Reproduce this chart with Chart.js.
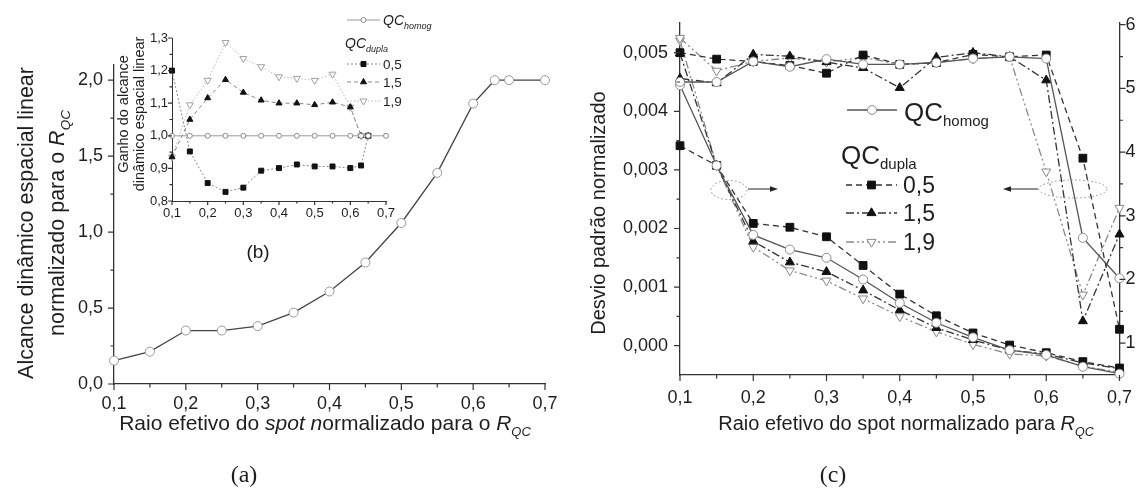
<!doctype html>
<html lang="pt">
<head>
<meta charset="utf-8">
<title>Alcance dinâmico e desvio padrão</title>
<script src="https://cdn.jsdelivr.net/npm/chart.js"></script>
<style>
  body { margin: 0; background: #fff; }
  #fig { position: relative; width: 1144px; height: 491px; overflow: hidden; }
  #fig canvas { position: absolute; top: 0; }
</style>
</head>
<body>
<div id="fig">
  <canvas id="chartA" width="572" height="491" style="left:0"></canvas>
  <canvas id="chartB" width="350" height="270" style="left:100px"></canvas>
  <canvas id="chartC" width="572" height="491" style="left:572px"></canvas>
</div>
<script>
// (a) alcance dinamico normalizado
const raioA = [0.1, 0.15, 0.2, 0.25, 0.3, 0.35, 0.4, 0.45, 0.5, 0.55, 0.6, 0.63, 0.65, 0.7];
const alcanceHomog = [0.154, 0.213, 0.352, 0.352, 0.381, 0.47, 0.609, 0.80, 1.06, 1.39, 1.846, 2.0, 2.0, 2.0];

// (b) ganho (inset)
const raioB = [0.1, 0.15, 0.2, 0.25, 0.3, 0.35, 0.4, 0.45, 0.5, 0.55, 0.6, 0.63, 0.65];
const raioBHomog = [0.1, 0.15, 0.2, 0.25, 0.3, 0.35, 0.4, 0.45, 0.5, 0.55, 0.6, 0.63, 0.65, 0.7];
const ganhoHomog = [1, 1, 1, 1, 1, 1, 1, 1, 1, 1, 1, 1, 1, 1];
const ganhoDupla05 = [1.20, 0.952, 0.855, 0.828, 0.841, 0.893, 0.901, 0.912, 0.906, 0.906, 0.901, 0.909, 1.0];
const ganhoDupla15 = [0.935, 1.05, 1.116, 1.172, 1.133, 1.109, 1.10, 1.10, 1.095, 1.103, 1.088, 1.0, 1.0];
const ganhoDupla19 = [0.935, 1.095, 1.17, 1.286, 1.237, 1.212, 1.181, 1.176, 1.17, 1.189, 1.088, 1.0, 1.0];

// (c) desvio padrao (eixo esquerdo) e eixo direito
const raioC = [0.1, 0.15, 0.2, 0.25, 0.3, 0.35, 0.4, 0.45, 0.5, 0.55, 0.6, 0.65, 0.7];
const desvioHomog = [0.00450, 0.00450, 0.00485, 0.00476, 0.00489, 0.00480, 0.00480, 0.00483, 0.00490, 0.00493, 0.00490, 0.00184, 0.00115];
const desvioDupla05 = [0.00500, 0.00489, 0.00485, 0.00478, 0.00465, 0.00496, 0.00480, 0.00483, 0.00497, 0.00493, 0.00496, 0.00320, 0.00028];
const desvioDupla15 = [0.00456, 0.00448, 0.00497, 0.00494, 0.00484, 0.00474, 0.00440, 0.00492, 0.00500, 0.00493, 0.00453, 0.00042, 0.00190];
const desvioDupla19 = [0.00525, 0.00469, 0.00485, 0.00491, 0.00484, 0.00492, 0.00480, 0.00483, 0.00490, 0.00493, 0.00297, 0.00087, 0.00235];
const direitoHomog = [5.05, 3.79, 2.70, 2.47, 2.34, 2.00, 1.63, 1.32, 1.09, 0.89, 0.815, 0.63, 0.52];
const direitoDupla05 = [4.10, 3.79, 2.88, 2.82, 2.67, 2.22, 1.77, 1.43, 1.16, 0.97, 0.85, 0.71, 0.61];
const direitoDupla15 = [5.55, 3.79, 2.60, 2.27, 2.12, 1.83, 1.52, 1.24, 1.05, 0.89, 0.83, 0.69, 0.60];
const direitoDupla19 = [5.75, 3.79, 2.51, 2.14, 1.98, 1.70, 1.42, 1.18, 0.98, 0.83, 0.80, 0.64, 0.54];

const SANS = '"Liberation Sans", Arial, sans-serif';
const SERIF = '"Liberation Serif", "Times New Roman", serif';
const INK = '#1e1e1e';

const pts = (xs, ys) => xs.map((x, i) => ({ x: x, y: ys[i] }));
const fmt = (v, d) => (Math.abs(v) < 1e-12 ? 0 : v).toFixed(d).replace('.', ',');

const estiloB = {
  homog: { cor: '#9a9a9a', dash: [], forma: 'circle', r: 2.5, fundo: '#fff', borda: '#8a8a8a' },
  d05: { cor: '#8a8a8a', dash: [2, 2], forma: 'rect', r: 3.5, fundo: '#111', borda: '#111' },
  d15: { cor: '#8a8a8a', dash: [4, 3], forma: 'triangle', r: 3.5, fundo: '#111', borda: '#111' },
  d19: { cor: '#bdbdbd', dash: [1.5, 2], forma: 'triangle', rot: 180, r: 4, fundo: '#fff', borda: '#a0a0a0' }
};
const estiloC = {
  homog: { cor: '#555', dash: [], forma: 'circle', r: 4.5, fundo: '#fff', borda: '#8c8c8c' },
  d05: { cor: '#333', dash: [6, 4], forma: 'rect', r: 5.5, fundo: '#111', borda: '#111' },
  d15: { cor: '#333', dash: [8, 3, 2, 3], forma: 'triangle', r: 5.2, fundo: '#111', borda: '#111' },
  d19: { cor: '#8a8a8a', dash: [8, 3, 2, 3, 2, 3], forma: 'triangle', rot: 180, r: 5.2, fundo: '#fff', borda: '#8a8a8a' }
};

function serie(xs, ys, st, eixo, bw) {
  return {
    data: pts(xs, ys), yAxisID: eixo, borderColor: st.cor, borderWidth: bw, borderDash: st.dash,
    pointStyle: st.forma, pointRotation: st.rot || 0, pointRadius: st.r, pointHoverRadius: st.r,
    pointBackgroundColor: st.fundo, pointBorderColor: st.borda, pointBorderWidth: 1,
    tension: 0, clip: false
  };
}

function marcador(ctx, st, x, y) {
  ctx.save();
  ctx.setLineDash([]);
  ctx.lineWidth = 1;
  ctx.beginPath();
  if (st.forma === 'circle') {
    ctx.arc(x, y, st.r, 0, Math.PI * 2);
  } else if (st.forma === 'rect') {
    const h = st.r * Math.SQRT1_2;
    ctx.rect(x - h, y - h, 2 * h, 2 * h);
  } else {
    let a = (st.rot || 0) * Math.PI / 180;
    for (let k = 0; k < 3; k++) {
      const px = x + Math.sin(a) * st.r, py = y - Math.cos(a) * st.r;
      k ? ctx.lineTo(px, py) : ctx.moveTo(px, py);
      a += Math.PI * 2 / 3;
    }
    ctx.closePath();
  }
  ctx.fillStyle = st.fundo; ctx.fill();
  ctx.strokeStyle = st.borda; ctx.stroke();
  ctx.restore();
}

function amostra(ctx, st, x1, x2, y, lw) {
  ctx.save();
  ctx.strokeStyle = st.cor; ctx.lineWidth = lw; ctx.setLineDash(st.dash);
  ctx.beginPath(); ctx.moveTo(x1, y); ctx.lineTo(x2, y); ctx.stroke();
  ctx.restore();
  marcador(ctx, st, (x1 + x2) / 2, y);
}

function fonte(p) { return (p.i ? 'italic ' : '') + p.s + 'px ' + (p.f || SANS); }

function texto(ctx, partes, x, y, align) {
  let w = 0;
  partes.forEach(p => { ctx.font = fonte(p); w += ctx.measureText(p.t).width; });
  let cx = align === 'center' ? x - w / 2 : (align === 'right' ? x - w : x);
  ctx.textAlign = 'left';
  ctx.textBaseline = 'alphabetic';
  ctx.fillStyle = INK;
  partes.forEach(p => {
    ctx.font = fonte(p);
    ctx.fillText(p.t, cx, y + (p.dy || 0));
    cx += ctx.measureText(p.t).width;
  });
}

function textoVertical(ctx, partes, cx, cy, size) {
  ctx.save();
  ctx.translate(cx, cy);
  ctx.rotate(-Math.PI / 2);
  texto(ctx, partes, 0, size * 0.36, 'center');
  ctx.restore();
}

function marcas(ctx, scale, lado, maior, menor) {
  const vals = scale.ticks.map(t => t.value);
  const meios = [];
  for (let k = 0; k < vals.length - 1; k++) meios.push((vals[k] + vals[k + 1]) / 2);
  ctx.save();
  ctx.strokeStyle = '#333';
  ctx.lineWidth = 1.2;
  ctx.beginPath();
  const put = (v, len) => {
    const p = scale.getPixelForValue(v);
    if (lado === 'bottom') { ctx.moveTo(p, scale.top); ctx.lineTo(p, scale.top + len); }
    else if (lado === 'left') { ctx.moveTo(scale.right, p); ctx.lineTo(scale.right - len, p); }
    else { ctx.moveTo(scale.left, p); ctx.lineTo(scale.left + len, p); }
  };
  vals.forEach(v => put(v, maior));
  meios.forEach(v => put(v, menor));
  ctx.stroke();
  ctx.restore();
}

function seta(ctx, x1, x2, y) {
  const d = Math.sign(x2 - x1);
  ctx.save();
  ctx.strokeStyle = '#222'; ctx.fillStyle = '#222'; ctx.lineWidth = 1;
  ctx.beginPath(); ctx.moveTo(x1, y); ctx.lineTo(x2 - d * 6, y); ctx.stroke();
  ctx.beginPath(); ctx.moveTo(x2, y); ctx.lineTo(x2 - d * 8, y - 2.8); ctx.lineTo(x2 - d * 8, y + 2.8); ctx.closePath(); ctx.fill();
  ctx.restore();
}

function elipse(ctx, cx, cy, rx, ry) {
  ctx.save();
  ctx.strokeStyle = '#8a8a8a'; ctx.lineWidth = 1; ctx.setLineDash([1.5, 2.5]);
  ctx.beginPath(); ctx.ellipse(cx, cy, rx, ry, 0, 0, Math.PI * 2); ctx.stroke();
  ctx.restore();
}

function eixo(opts) {
  return Object.assign({
    type: 'linear',
    grid: { display: false, drawTicks: false },
    border: { display: true, color: '#333', width: 1.3 }
  }, opts);
}

function ticks(size, padding, dec, step) {
  return {
    stepSize: step, includeBounds: false, padding: padding, color: INK, autoSkip: false, maxRotation: 0,
    font: { family: SANS, size: size }, callback: v => fmt(v, dec)
  };
}

const comum = {
  responsive: false, animation: false, devicePixelRatio: 1,
  plugins: { legend: { display: false }, tooltip: { enabled: false } }
};

// ---------- (a) ----------
new Chart(document.getElementById('chartA'), {
  type: 'line',
  data: {
    datasets: [serie(raioA, alcanceHomog,
      { cor: '#444', dash: [], forma: 'circle', r: 4.5, fundo: '#fff', borda: '#999' }, 'y', 1.3)]
  },
  options: Object.assign({}, comum, {
    layout: { padding: { left: 0, top: 65, right: 27, bottom: 0 } },
    scales: {
      x: eixo({ min: 0.1, max: 0.7, ticks: ticks(18, 9, 1, 0.1), afterFit: s => { s.height = 107; } }),
      y: eixo({ min: 0, max: 2.1, ticks: ticks(18, 11, 1, 0.5), afterFit: s => { s.width = 114; } })
    }
  }),
  plugins: [{
    id: 'decorA',
    afterDraw(chart) {
      const ctx = chart.ctx;
      marcas(ctx, chart.scales.x, 'bottom', 6, 3.5);
      marcas(ctx, chart.scales.y, 'left', 6, 3.5);
      texto(ctx, [
        { t: 'Raio efetivo do ', s: 21 }, { t: 'spot n', s: 21, i: true },
        { t: 'ormalizado para o ', s: 21 }, { t: 'R', s: 21, i: true },
        { t: 'QC', s: 13, i: true, dy: 6 }
      ], 325, 430, 'center');
      textoVertical(ctx, [{ t: 'Alcance dinâmico espacial linear', s: 21.5 }], 25, 223, 21.5);
      textoVertical(ctx, [
        { t: 'normalizado para o ', s: 21.5 }, { t: 'R', s: 21.5, i: true },
        { t: 'QC', s: 13.5, i: true, dy: 6 }
      ], 56, 223, 21.5);
      texto(ctx, [{ t: '(a)', s: 24, f: SERIF }], 244, 482, 'center');
    }
  }]
});

// ---------- (b) inset ----------
new Chart(document.getElementById('chartB'), {
  type: 'line',
  data: {
    datasets: [
      serie(raioBHomog, ganhoHomog, estiloB.homog, 'y', 1),
      serie(raioB, ganhoDupla05, estiloB.d05, 'y', 1),
      serie(raioB, ganhoDupla15, estiloB.d15, 'y', 1),
      serie(raioB, ganhoDupla19, estiloB.d19, 'y', 1)
    ]
  },
  options: Object.assign({}, comum, {
    layout: { padding: { left: 0, top: 38, right: 64, bottom: 0 } },
    scales: {
      x: eixo({ min: 0.1, max: 0.7, border: { display: true, color: '#333', width: 1 },
        ticks: ticks(13, 5, 1, 0.1), afterFit: s => { s.height = 69; } }),
      y: eixo({ min: 0.8, max: 1.3, border: { display: true, color: '#333', width: 1 },
        ticks: ticks(13, 4, 1, 0.1), afterFit: s => { s.width = 72; } })
    }
  }),
  plugins: [{
    id: 'decorB',
    afterDraw(chart) {
      const ctx = chart.ctx;
      marcas(ctx, chart.scales.x, 'bottom', 4, 2.5);
      marcas(ctx, chart.scales.y, 'left', 4, 2.5);
      textoVertical(ctx, [{ t: 'Ganho do alcance', s: 14.5 }], 23, 114, 14.5);
      textoVertical(ctx, [{ t: 'dinâmico espacial linear', s: 14.5 }], 39, 114, 14.5);
      // legenda
      amostra(ctx, estiloB.homog, 247, 280, 20, 1);
      texto(ctx, [{ t: 'QC', s: 14, i: true }, { t: 'homog', s: 9, i: true, dy: 4 }], 283, 25, 'left');
      texto(ctx, [{ t: 'QC', s: 14, i: true }, { t: 'dupla', s: 9, i: true, dy: 4 }], 245, 48, 'left');
      const linhas = [['0,5', estiloB.d05, 64], ['1,5', estiloB.d15, 82], ['1,9', estiloB.d19, 101]];
      linhas.forEach(l => {
        amostra(ctx, l[1], 247, 280, l[2], 1);
        texto(ctx, [{ t: l[0], s: 13.5 }], 283, l[2] + 5, 'left');
      });
      texto(ctx, [{ t: '(b)', s: 19 }], 158, 258, 'center');
    }
  }]
});

// ---------- (c) ----------
new Chart(document.getElementById('chartC'), {
  type: 'line',
  data: {
    datasets: [
      serie(raioC, desvioHomog, estiloC.homog, 'y', 1.3),
      serie(raioC, desvioDupla05, estiloC.d05, 'y', 1.3),
      serie(raioC, desvioDupla15, estiloC.d15, 'y', 1.3),
      serie(raioC, desvioDupla19, estiloC.d19, 'y', 1.3),
      serie(raioC, direitoHomog, estiloC.homog, 'y2', 1.3),
      serie(raioC, direitoDupla05, estiloC.d05, 'y2', 1.3),
      serie(raioC, direitoDupla15, estiloC.d15, 'y2', 1.3),
      serie(raioC, direitoDupla19, estiloC.d19, 'y2', 1.3)
    ]
  },
  options: Object.assign({}, comum, {
    layout: { padding: { left: 0, top: 16, right: 0, bottom: 0 } },
    scales: {
      x: eixo({ min: 0.1, max: 0.7, ticks: ticks(18, 12, 1, 0.1), afterFit: s => { s.height = 116; } }),
      y: eixo({ position: 'left', min: -0.0005, max: 0.00551, ticks: ticks(18, 12, 3, 0.001),
        afterFit: s => { s.width = 108; } }),
      y2: eixo({ position: 'right', min: 0.5, max: 6.03, ticks: ticks(18, 6, 0, 1),
        afterFit: s => { s.width = 19; } })
    }
  }),
  plugins: [{
    id: 'decorC',
    afterDraw(chart) {
      const ctx = chart.ctx;
      marcas(ctx, chart.scales.x, 'bottom', 6, 3.5);
      marcas(ctx, chart.scales.y, 'left', 6, 3.5);
      marcas(ctx, chart.scales.y2, 'right', 6, 3.5);
      texto(ctx, [
        { t: 'Raio efetivo do spot normalizado para ', s: 20 }, { t: 'R', s: 20, i: true },
        { t: 'QC', s: 12.5, i: true, dy: 6 }
      ], 334, 430, 'center');
      textoVertical(ctx, [{ t: 'Desvio padrão normalizado', s: 20 }], 26, 213, 20);
      texto(ctx, [{ t: '(c)', s: 24, f: SERIF }], 261, 482, 'center');
      // anotacoes
      elipse(ctx, 157, 190, 18, 9.5);
      seta(ctx, 176, 206, 189);
      elipse(ctx, 501, 189, 34, 9);
      seta(ctx, 466, 431, 189);
      // legenda
      amostra(ctx, estiloC.homog, 275, 325, 110, 1.3);
      texto(ctx, [{ t: 'QC', s: 26 }, { t: 'homog', s: 15, dy: 5 }], 332, 121, 'left');
      texto(ctx, [{ t: 'QC', s: 26 }, { t: 'dupla', s: 15, dy: 5 }], 269, 164, 'left');
      const linhas = [['0,5', estiloC.d05, 185], ['1,5', estiloC.d15, 213], ['1,9', estiloC.d19, 242]];
      linhas.forEach(l => {
        amostra(ctx, l[1], 274, 325, l[2], 1.3);
        texto(ctx, [{ t: l[0], s: 23 }], 331, l[2] + 8, 'left');
      });
    }
  }]
});
</script>
</body>
</html>
